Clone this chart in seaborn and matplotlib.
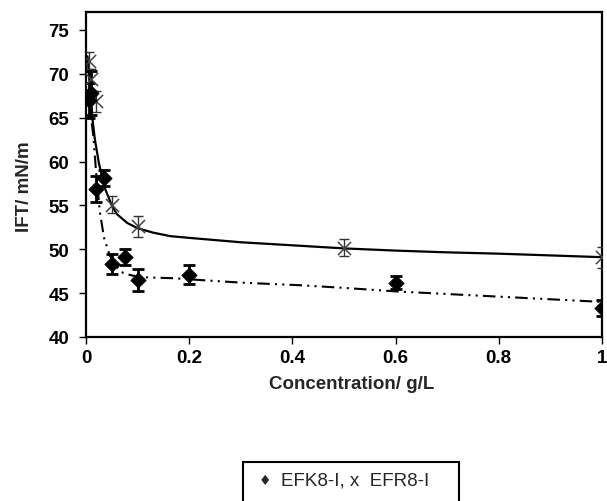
import pandas as pd
import matplotlib
matplotlib.use("Agg")
import matplotlib.pyplot as plt
from matplotlib.patches import Rectangle
import seaborn as sns

# measured points
efk_conc = [0.005, 0.01, 0.02, 0.035, 0.05, 0.075, 0.1, 0.2, 0.6, 1.0]
efk_ift = [67.0, 67.8, 56.9, 58.1, 48.3, 49.1, 46.5, 47.1, 46.2, 43.3]
efk_err = [2.0, 2.5, 1.5, 0.9, 1.15, 0.9, 1.25, 1.1, 0.7, 0.9]

efr_conc = [0.005, 0.01, 0.02, 0.05, 0.1, 0.5, 1.0]
efr_ift = [71.5, 69.4, 66.9, 55.1, 52.6, 50.2, 49.1]
efr_err = [1.0, 1.2, 1.2, 1.0, 1.15, 1.0, 1.2]

# trend curves
efk_fit_x = [0.003, 0.006, 0.01, 0.014, 0.02, 0.027, 0.035, 0.046, 0.06, 0.072, 0.09,
             0.114, 0.17, 0.22, 0.3, 0.415, 0.5, 0.6, 0.7, 0.8, 0.9, 1.0]
efk_fit_y = [68.0, 66.8, 65.0, 63.0, 58.5, 54.2, 51.3, 49.3, 48.0, 47.3, 47.0,
             46.8, 46.7, 46.5, 46.2, 45.9, 45.6, 45.2, 44.9, 44.6, 44.3, 44.0]
efr_fit_x = [0.003, 0.0064, 0.011, 0.017, 0.025, 0.037, 0.05, 0.06, 0.08, 0.1, 0.13,
             0.163, 0.2, 0.3, 0.415, 0.5, 0.6, 0.7, 0.8, 0.9, 1.0]
efr_fit_y = [72.0, 69.4, 65.6, 62.6, 59.8, 56.9, 55.0, 54.0, 53.0, 52.4, 51.9,
             51.5, 51.3, 50.8, 50.4, 50.1, 49.85, 49.65, 49.5, 49.3, 49.1]

efk = pd.DataFrame({"conc": efk_conc, "ift": efk_ift, "err": efk_err})
efr = pd.DataFrame({"conc": efr_conc, "ift": efr_ift, "err": efr_err})
efk_fit = pd.DataFrame({"conc": efk_fit_x, "ift": efk_fit_y})
efr_fit = pd.DataFrame({"conc": efr_fit_x, "ift": efr_fit_y})

sns.set_style("white")
plt.rcParams["font.family"] = ["Liberation Sans", "DejaVu Sans"]

fig = plt.figure(figsize=(6.07, 5.02), dpi=100)
ax = fig.add_axes([86 / 607, 1 - 338 / 502, (602 - 86) / 607, (338 - 13) / 502])

sns.lineplot(data=efr_fit, x="conc", y="ift", ax=ax, color="black", lw=1.6,
             sort=False, estimator=None)
sns.lineplot(data=efk_fit, x="conc", y="ift", ax=ax, color="black", lw=1.5,
             sort=False, estimator=None, dashes=False)
ax.lines[-1].set_dashes([6, 2.5, 1, 2.5, 1, 2.5])

ax.errorbar(efr["conc"], efr["ift"], yerr=efr["err"], fmt="none", ecolor="#333333",
            elinewidth=1, capsize=3.5, capthick=1, zorder=3)
ax.errorbar(efk["conc"], efk["ift"], yerr=efk["err"], fmt="none", ecolor="black",
            elinewidth=2, capsize=4, capthick=2, zorder=3)
sns.scatterplot(data=efr, x="conc", y="ift", ax=ax, marker="x", s=90,
                color="#444444", linewidth=1.1, zorder=4)
sns.scatterplot(data=efk, x="conc", y="ift", ax=ax, marker="D", s=60,
                color="black", edgecolor="black", zorder=5)

ax.set_xlim(0, 1)
ax.set_ylim(40, 77.05)
ax.set_xticks([0, 0.2, 0.4, 0.6, 0.8, 1.0])
ax.set_xticklabels(["0", "0.2", "0.4", "0.6", "0.8", "1"])
ax.set_yticks(range(40, 80, 5))
ax.tick_params(axis="both", which="both", left=True, bottom=True, direction="out",
               length=5, width=1, labelsize=13.5, colors="black", pad=4)
ax.tick_params(axis="y", pad=7)
for lab in ax.get_xticklabels() + ax.get_yticklabels():
    lab.set_fontweight("bold")
for sp in ax.spines.values():
    sp.set_visible(True)
    sp.set_color("black")
    sp.set_linewidth(1.6)

ax.set_xlabel("Concentration/ g/L", fontsize=13.5, fontweight="bold")
ax.set_ylabel("IFT/ mN/m", fontsize=13.5, fontweight="bold")
ax.xaxis.set_label_coords(0.515, -0.117)
ax.yaxis.set_label_coords(-0.102, 0.465)

# legend box, cut by the bottom of the figure
fig.patches.append(Rectangle((243 / 607, -0.05), (459 - 243) / 607, (502 - 463) / 502 + 0.05,
                             transform=fig.transFigure, fill=False, lw=1.5, ec="black"))
fig.text(259 / 607, 1 - 481 / 502, "\u2666", fontsize=10,
         va="center", ha="left", family=["DejaVu Sans"])
fig.text(281 / 607, 1 - 481 / 502, "EFK8-I, x  EFR8-I", fontsize=13.5,
         va="center", ha="left", family=["Liberation Sans", "DejaVu Sans"])

fig.savefig("out.png", dpi=100)
